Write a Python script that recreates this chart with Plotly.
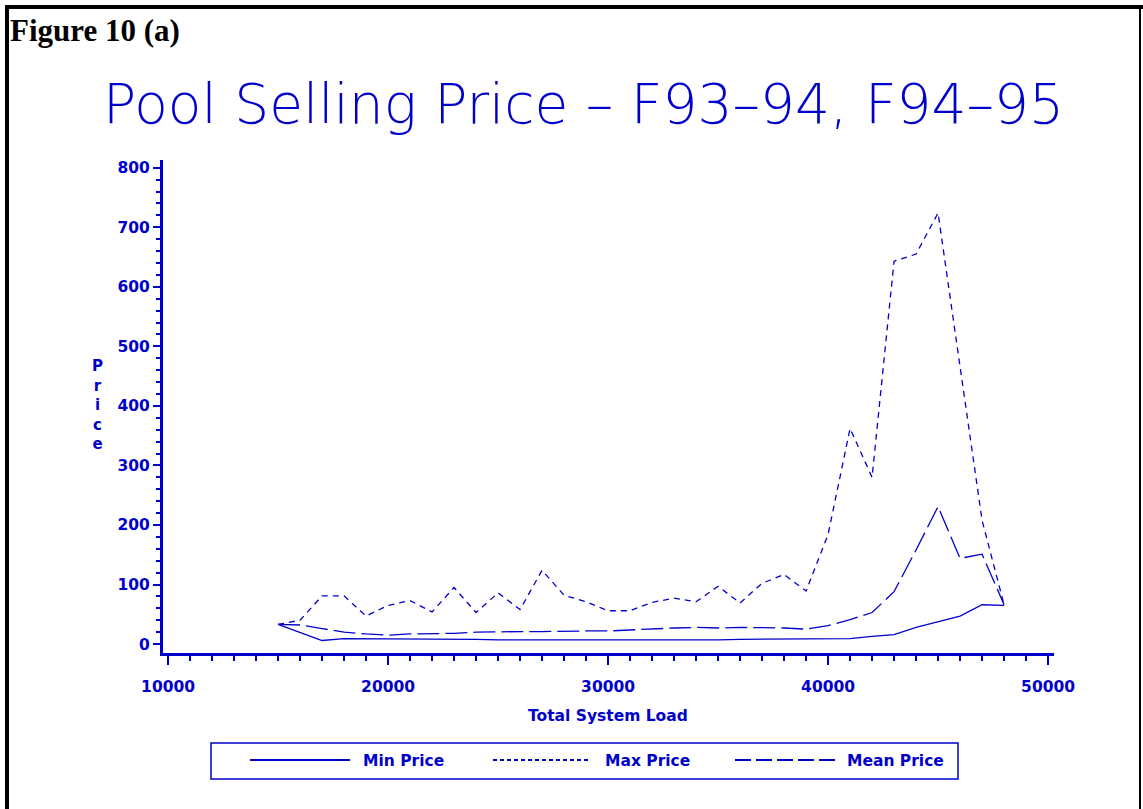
import plotly.graph_objects as go

# Total system load (MW) and pool selling prices
load = [15000, 16000, 17000, 18000, 19000, 20000, 21000, 22000, 23000, 24000,
        25000, 26000, 27000, 28000, 29000, 30000, 31000, 32000, 33000, 34000,
        35000, 36000, 37000, 38000, 39000, 40000, 41000, 42000, 43000, 44000,
        45000, 46000, 47000, 48000]

min_price = [33, 19, 6, 9, 9, 9, 8, 8, 8, 8,
             7, 7, 6, 6, 6, 6, 6, 6, 7, 7,
             7, 8, 8, 8, 8, 8, 9, 13, 16, 28,
             37, 47, 66, 65]

max_price = [33, 40, 81, 81, 47, 65, 73, 54, 95, 53,
             86, 58, 124, 82, 71, 56, 56, 70, 77, 71,
             97, 69, 102, 117, 89, 184, 362, 280, 643, 655,
             724, 468, 208, 66]

mean_price = [33, 32, 26, 20, 17, 15, 17, 17, 18, 20,
              21, 21, 21, 22, 22, 22, 24, 25, 27, 28,
              27, 28, 28, 27, 25, 31, 41, 53, 88, 158,
              231, 144, 151, 66]

series_names = ["Min Price", "Max Price", "Mean Price"]

BLUE = "#0000CC"
W, H = 1143, 809
L, R, T, B = 163, 89, 160, 156
PW, PH = W - L - R, H - T - B


def px(x):
    return (x - L) / PW


def py(y):
    return (H - B - y) / PH


dashes = ["solid", "6px,5px", "22px,6px"]

fig = go.Figure()
for name, vals, dash in zip(series_names, [min_price, max_price, mean_price], dashes):
    fig.add_trace(go.Scatter(x=load, y=vals, mode="lines", name=name,
                             line=dict(color=BLUE, width=1.3, dash=dash),
                             showlegend=False))

tick_font = dict(family="DejaVu Sans", size=15.5, color=BLUE, weight="bold")

fig.update_xaxes(range=[9770, 50270], tick0=10000, dtick=10000, tickformat="d",
                 showline=True, linecolor=BLUE, linewidth=3,
                 ticks="outside", ticklen=9, tickwidth=2, tickcolor=BLUE,
                 minor=dict(dtick=1000, ticks="outside", ticklen=5, tickwidth=2, tickcolor=BLUE),
                 showgrid=False, zeroline=False, tickfont=tick_font,
                 ticklabelstandoff=8)
fig.update_yaxes(range=[-15, 813], tick0=0, dtick=100, tickformat="d",
                 showline=True, linecolor=BLUE, linewidth=3,
                 ticks="outside", ticklen=7, tickwidth=2, tickcolor=BLUE,
                 minor=dict(dtick=20, ticks="outside", ticklen=4, tickwidth=2, tickcolor=BLUE),
                 showgrid=False, zeroline=False, tickfont=tick_font,
                 ticklabelstandoff=0)

annotations = [
    dict(text="Figure 10 (a)", x=px(8), y=py(31), xanchor="left", yanchor="middle",
         font=dict(family="Liberation Serif", size=31, color="black", weight="bold")),
    dict(text="Pool Selling Price – F93–94, F94–95", x=px(583), y=py(104),
         xanchor="center", yanchor="middle",
         font=dict(family="DejaVu Sans", size=55, color=BLUE, weight=200)),
    dict(text="Total System Load", x=px(608), y=py(716), xanchor="center", yanchor="middle",
         font=tick_font),
    dict(text="P<br>r<br>i<br>c<br>e", x=px(97), y=py(405), xanchor="center", yanchor="middle",
         font=dict(family="DejaVu Sans", size=15, color=BLUE, weight="bold")),
]

shapes = [
    # page frame
    dict(type="rect", x0=px(5), x1=px(9), y0=py(5), y1=py(H + 5), fillcolor="black", line_width=0),
    dict(type="rect", x0=px(5), x1=px(W), y0=py(5), y1=py(9), fillcolor="black", line_width=0),
    dict(type="rect", x0=px(1139), x1=px(1141), y0=py(5), y1=py(H + 5), fillcolor="black", line_width=0),
    # legend box
    dict(type="rect", x0=px(211), x1=px(958), y0=py(779), y1=py(743),
         line=dict(color=BLUE, width=1.5)),
]

# legend entries drawn by hand (long SAS-style samples)
legend_pos = [(250, 350, 361), (493, 588, 603), (735, 836, 845)]
legend_dash = ["solid", "4px,3px", "16px,5px"]
for (sx0, sx1, tx), name, dash in zip(legend_pos, series_names, legend_dash):
    shapes.append(dict(type="line", x0=px(sx0), x1=px(sx1), y0=py(760), y1=py(760),
                       line=dict(color=BLUE, width=2, dash=dash)))
    annotations.append(dict(text=name, x=px(tx), y=py(761), xanchor="left", yanchor="middle",
                            font=tick_font))

for a in annotations:
    a.update(xref="paper", yref="paper", showarrow=False)
for s in shapes:
    s.update(xref="paper", yref="paper")

fig.update_layout(width=W, height=H, margin=dict(l=L, r=R, t=T, b=B),
                  plot_bgcolor="white", paper_bgcolor="white",
                  annotations=annotations, shapes=shapes)

fig.write_html("out.html", config={"displayModeBar": False},
               post_script="document.body.style.margin='0px';document.body.style.overflow='hidden';")
